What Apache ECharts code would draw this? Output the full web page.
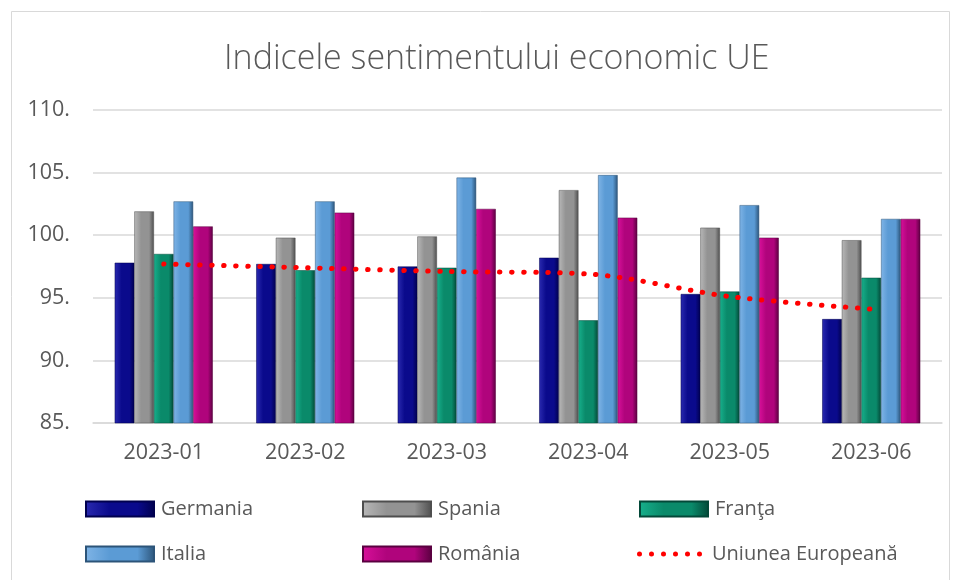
<!DOCTYPE html>
<html>
<head>
<meta charset="utf-8">
<script src="https://cdn.jsdelivr.net/npm/echarts@6/dist/echarts.min.js"></script>
<style>
html,body{margin:0;padding:0;background:#fff;}
#chart{width:956px;height:580px;}
</style>
</head>
<body>
<div id="chart"></div>
<script>
var luni = ['2023-01', '2023-02', '2023-03', '2023-04', '2023-05', '2023-06'];
var germania = [97.8, 97.7, 97.5, 98.2, 95.3, 93.3];
var spania = [101.9, 99.8, 99.9, 103.6, 100.6, 99.6];
var franta = [98.5, 97.2, 97.4, 93.2, 95.5, 96.6];
var italia = [102.7, 102.7, 104.6, 104.8, 102.4, 101.3];
var romania = [100.7, 101.8, 102.1, 101.4, 99.8, 101.3];
var ue = [97.7, 97.4, 97.1, 96.9, 95.1, 94.1];

var fontName = "'Open Sans', 'Noto Sans', sans-serif";
var textColor = '#595959';

// iconita punctata pentru legenda liniei (6 puncte)
var dotIcon = 'path://M0,2.5a2.5,2.5 0 1,0 5,0a2.5,2.5 0 1,0 -5,0z'
	+ 'M12,2.5a2.5,2.5 0 1,0 5,0a2.5,2.5 0 1,0 -5,0z'
	+ 'M24,2.5a2.5,2.5 0 1,0 5,0a2.5,2.5 0 1,0 -5,0z'
	+ 'M36,2.5a2.5,2.5 0 1,0 5,0a2.5,2.5 0 1,0 -5,0z'
	+ 'M48,2.5a2.5,2.5 0 1,0 5,0a2.5,2.5 0 1,0 -5,0z'
	+ 'M60,2.5a2.5,2.5 0 1,0 5,0a2.5,2.5 0 1,0 -5,0z';

// gradient orizontal: margine stanga deschisa, dreapta inchisa
function bevel(light, mid, dark){
	return new echarts.graphic.LinearGradient(0, 0, 1, 0, [
		{offset: 0, color: light},
		{offset: 0.35, color: mid},
		{offset: 0.75, color: mid},
		{offset: 1, color: dark}
	]);
}

function barSerie(nume, date, light, mid, dark){
	return {
		name: nume,
		type: 'bar',
		data: date,
		barGap: '0%',
		barCategoryGap: '30.7%',
		itemStyle: {color: bevel(light, mid, dark), borderColor: dark, borderWidth: 0.5}
	};
}

function legenda(x, y, nume){
	return {
		left: x, top: y, orient: 'vertical', padding: 0,
		itemWidth: 68, itemHeight: 15, itemGap: 25, icon: 'rect',
		textStyle: {fontFamily: fontName, fontSize: 20, color: textColor, padding: [0, 0, 0, 2]},
		data: nume
	};
}

var chart = echarts.init(document.getElementById('chart'));

var option = {
	backgroundColor: '#fff',
	animation: false,
	title: {
		text: 'Indicele sentimentului economic UE',
		left: 219,
		top: 37,
		textStyle: {fontFamily: fontName, fontWeight: 300, fontSize: 34, color: textColor}
	},
	graphic: [{
		type: 'rect',
		shape: {x: 11.5, y: 11.5, width: 938, height: 590},
		style: {fill: 'none', stroke: '#d9d9d9', lineWidth: 1}
	}],
	legend: [
		legenda(85, 499, ['Germania', 'Italia']),
		legenda(362, 499, ['Spania', 'România']),
		legenda(639, 499, ['Franţa']),
		{
			left: 637, top: 544, padding: 0,
			itemWidth: 65, itemHeight: 5, icon: dotIcon,
			textStyle: {fontFamily: fontName, fontSize: 20, color: textColor, padding: [0, 0, 0, 5]},
			data: ['Uniunea Europeană']
		}
	],
	grid: {left: 93, right: 14, top: 110, bottom: 157},
	xAxis: {
		type: 'category',
		data: luni,
		axisLine: {lineStyle: {color: '#d9d9d9', width: 1.5}},
		axisTick: {show: false},
		axisLabel: {fontFamily: fontName, fontSize: 21.5, color: textColor, margin: 19}
	},
	yAxis: {
		type: 'value',
		min: 85,
		max: 110,
		interval: 5,
		axisLine: {show: false},
		axisTick: {show: false},
		splitLine: {lineStyle: {color: '#d9d9d9', width: 1.5}},
		axisLabel: {
			fontFamily: fontName, fontSize: 21.5, color: textColor, margin: 23,
			formatter: function(v){ return v + '.'; }
		}
	},
	series: [
		barSerie('Germania', germania, '#2a2ab0', '#0a0a8c', '#00004e'),
		barSerie('Spania', spania, '#b8b8b8', '#939393', '#4e4e4e'),
		barSerie('Franţa', franta, '#17b08c', '#0a8a6a', '#034838'),
		barSerie('Italia', italia, '#7fb4e6', '#5b9bd5', '#2c5479'),
		barSerie('România', romania, '#d8109a', '#b0047c', '#5a0040'),
		{
			name: 'Uniunea Europeană',
			type: 'line',
			data: ue,
			smooth: 0.3,
			symbol: 'none',
			z: 5,
			itemStyle: {color: '#ff0000'},
			lineStyle: {color: '#ff0000', width: 5, type: [0.5, 11.5], cap: 'round'}
		}
	]
};

chart.setOption(option);
</script>
</body>
</html>
